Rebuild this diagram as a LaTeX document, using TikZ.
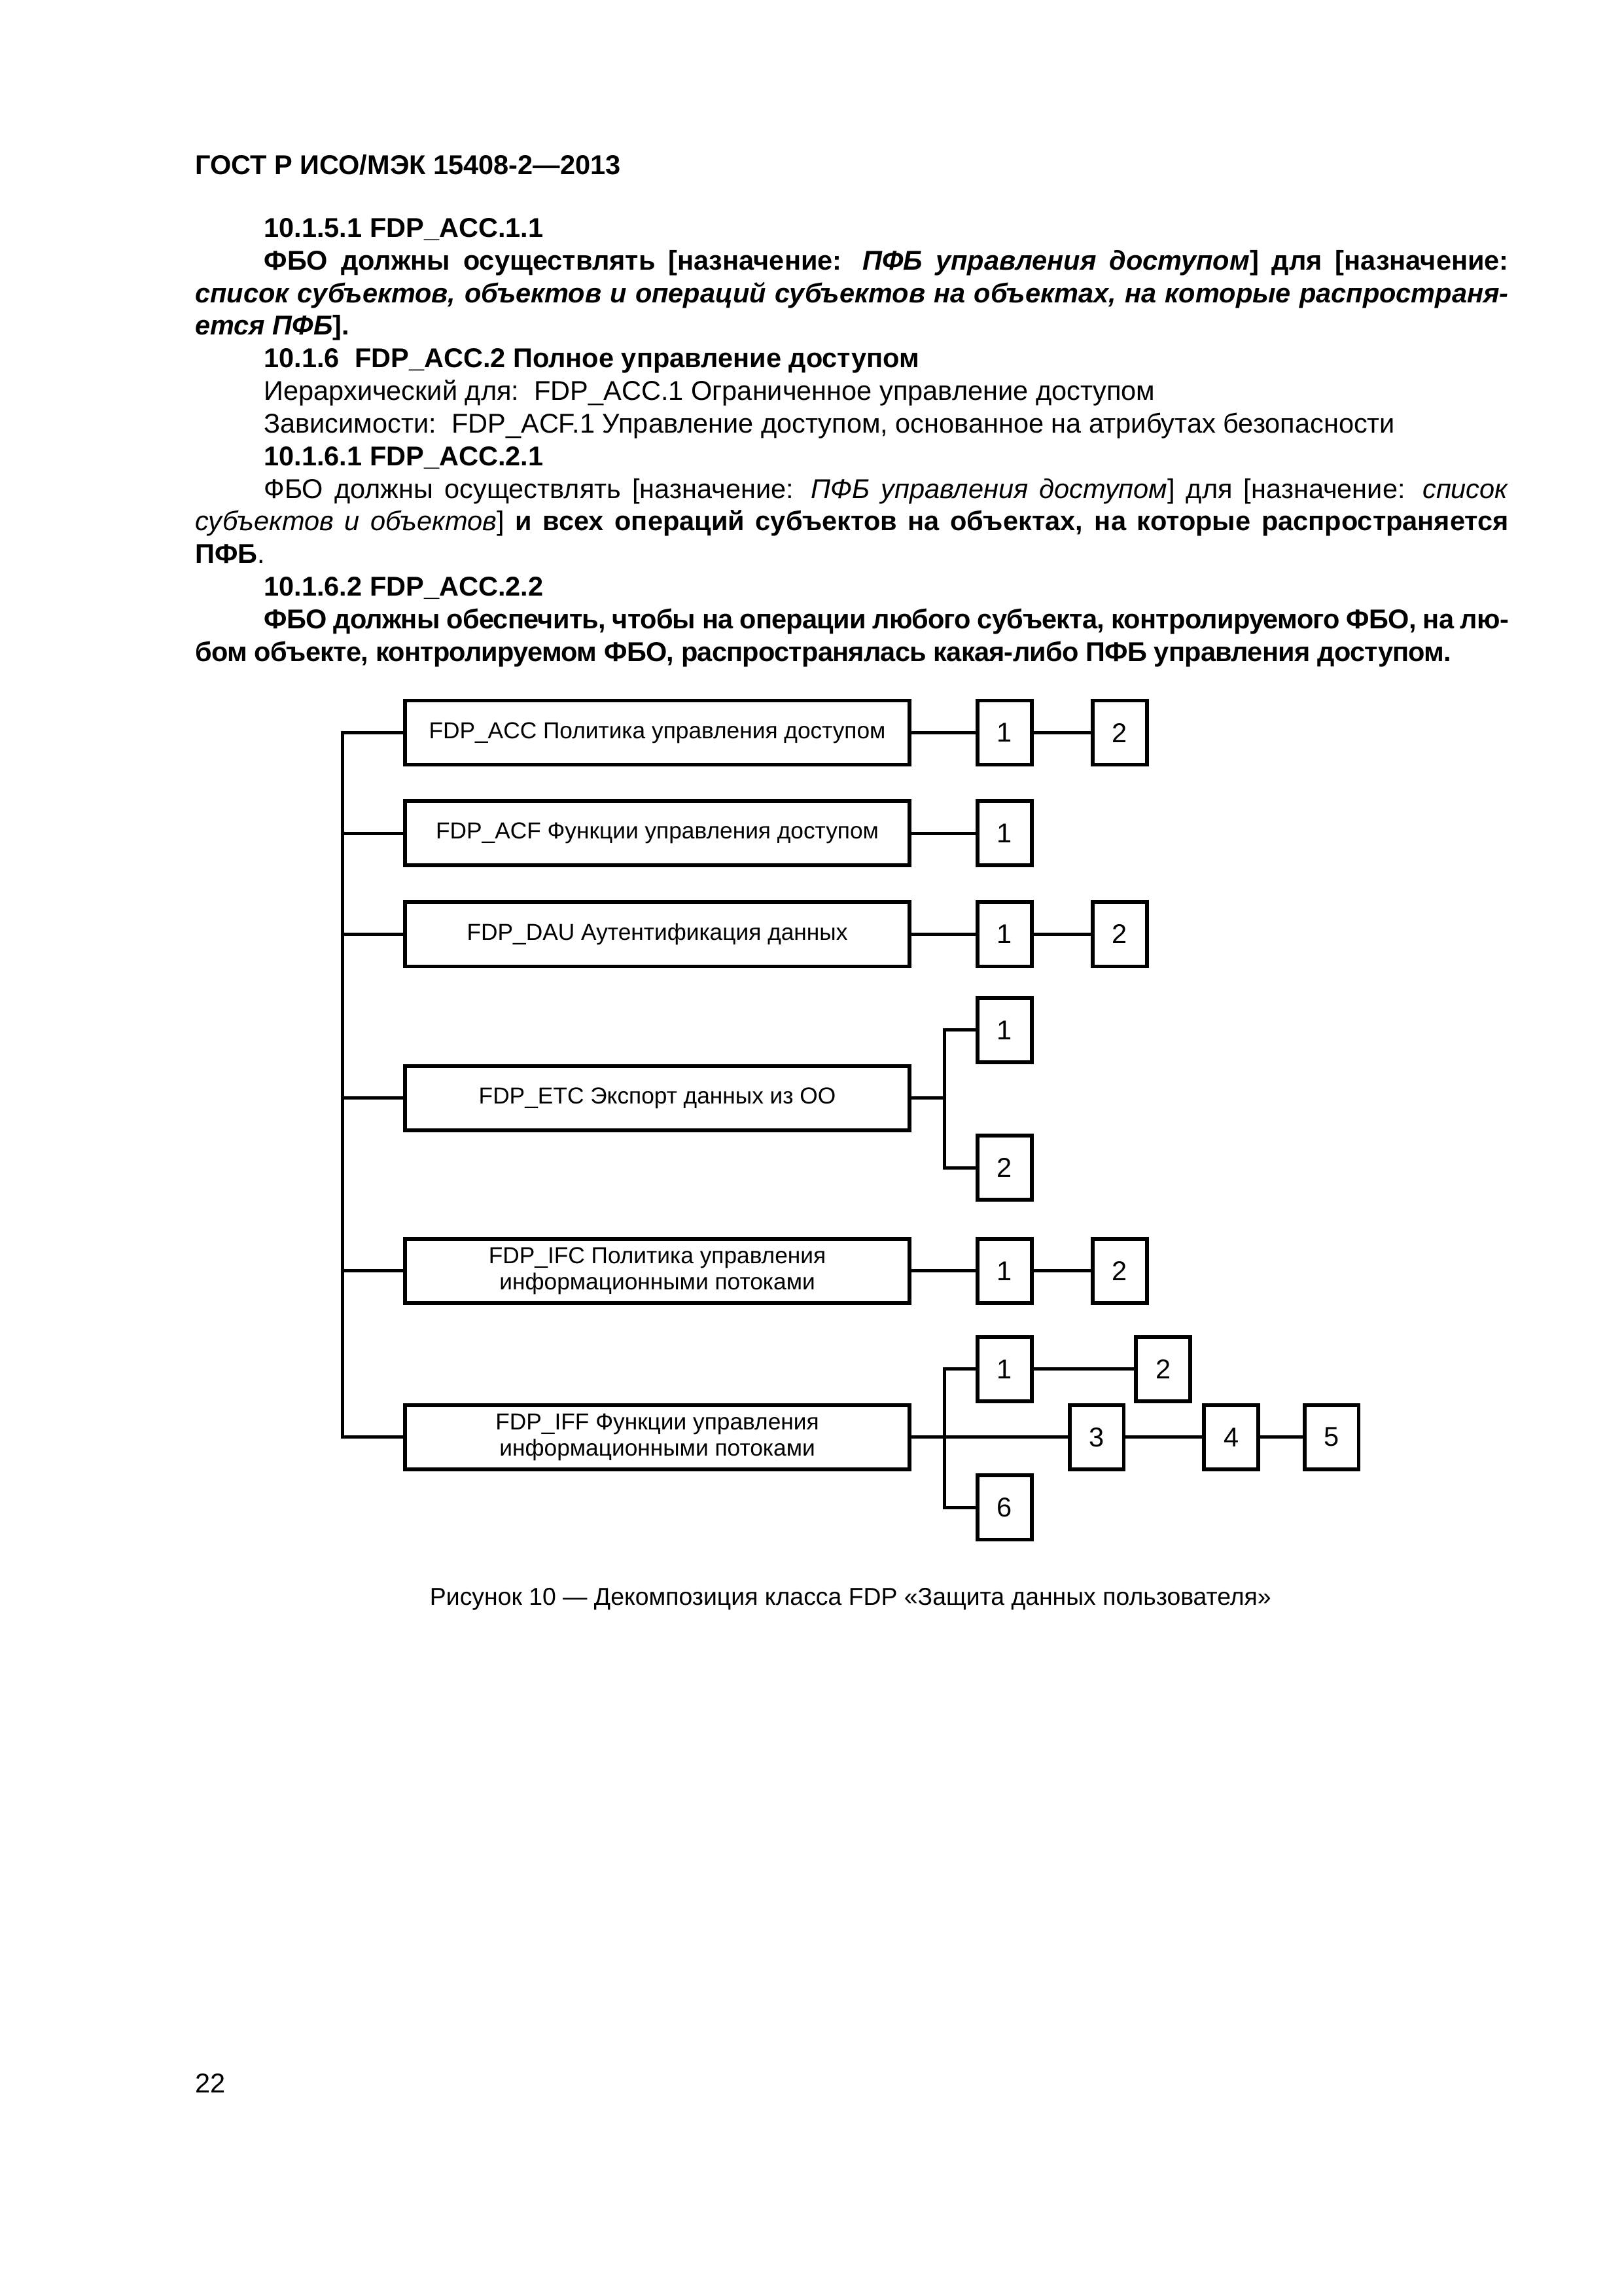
\documentclass[tikz,border=0pt]{standalone}
\usepackage{fontspec}
\setmainfont{Liberation Sans}
\usepackage{tikz}
\usetikzlibrary{positioning}
\tikzset{edge/.style = {line width=1.2pt}}
\newlength{\indw}
\setlength{\indw}{0.89cm}

\begin{document}
\begin{tikzpicture}[x=0.018936cm,y=-0.018936cm,
    big node/.style={draw,line width=1.4pt,minimum width=6.53cm,minimum height=0.83cm,inner sep=1pt,align=center,font=\fontsize{8.5}{9.7}\selectfont},
    num node/.style={draw,line width=1.4pt,minimum width=0.7cm,minimum height=0.83cm,inner sep=0pt,font=\fontsize{10}{12}\selectfont},
    body/.style={anchor=base west,inner sep=0pt,text width=16.99cm,align=justify,font=\fontsize{10}{12}\selectfont}]
  \useasboundingbox (0,0) rectangle (1109,1568);

  \node[body,font=\bfseries\fontsize{10}{12}\selectfont] (head) at (133,119) {ГОСТ Р ИСО/МЭК 15408-2—2013};
  \node[body] (txt) at (133,162) {\hyphenpenalty=10000
    \hspace*{\indw}\textbf{10.1.5.1 FDP\_ACC.1.1}\par
    \hspace*{\indw}\textbf{ФБО должны осуществлять [назначение: \textit{ПФБ управления доступом}] для [назначение:\linebreak \textit{список субъектов, объектов и операций субъектов на объектах, на которые распространя-}\linebreak \textit{ется ПФБ}].}\par
    \hspace*{\indw}\textbf{10.1.6\ \ FDP\_ACC.2 Полное управление доступом}\par
    \hspace*{\indw}Иерархический для:\ \ FDP\_ACC.1 Ограниченное управление доступом\par
    \hspace*{\indw}Зависимости:\ \ FDP\_ACF.1 Управление доступом, основанное на атрибутах безопасности\par
    \hspace*{\indw}\textbf{10.1.6.1 FDP\_ACC.2.1}\par
    \hspace*{\indw}ФБО должны осуществлять [назначение: \textit{ПФБ управления доступом}] для [назначение: \textit{список}\linebreak \textit{субъектов и объектов}] \textbf{и всех операций субъектов на объектах, на которые распространяется}\linebreak \textbf{ПФБ}.\par
    \hspace*{\indw}\textbf{10.1.6.2 FDP\_ACC.2.2}\par
    \hspace*{\indw}{\bfseries\addfontfeature{LetterSpace=-1.8}ФБО должны обеспечить, чтобы на операции любого субъекта, контролируемого ФБО, на лю-\linebreak бом объекте, контролируемом ФБО, распространялась какая-либо ПФБ управления доступом.\par}};

  \node[big node] (acc) at (449,500.4) {FDP\_ACC Политика управления доступом};
  \node[big node] (acf) at (449,569) {FDP\_ACF Функции управления доступом};
  \node[big node] (dau) at (449,638) {FDP\_DAU Аутентификация данных};
  \node[big node] (etc) at (449,750) {FDP\_ETC Экспорт данных из ОО};
  \node[big node] (ifc) at (449,868) {FDP\_IFC Политика управления\\информационными потоками};
  \node[big node] (iff) at (449,981.5) {FDP\_IFF Функции управления\\информационными потоками};

  \node[num node] (acc1) [right=0.83cm of acc] {1};
  \node[num node] (acc2) [right=0.74cm of acc1] {2};
  \node[num node] (acf1) [right=0.83cm of acf] {1};
  \node[num node] (dau1) [right=0.83cm of dau] {1};
  \node[num node] (dau2) [right=0.74cm of dau1] {2};
  \node[num node] (etc1) [right=0.83cm of etc, yshift=0.88cm] {1};
  \node[num node] (etc2) [right=0.83cm of etc, yshift=-0.9cm] {2};
  \node[num node] (ifc1) [right=0.83cm of ifc] {1};
  \node[num node] (ifc2) [right=0.74cm of ifc1] {2};
  \node[num node] (iff1) [right=0.83cm of iff, yshift=0.88cm] {1};
  \node[num node] (iff2) [right=1.3cm of iff1] {2};
  \node[num node] (iff3) [right=2.02cm of iff] {3};
  \node[num node] (iff4) [right=0.99cm of iff3] {4};
  \node[num node] (iff5) [right=0.55cm of iff4] {5};
  \node[num node] (iff6) [right=0.83cm of iff, yshift=-0.91cm] {6};

  \coordinate (trunk) at (234,500.4);
  \coordinate (etcfork) at (645,750);
  \coordinate (ifffork) at (645,981.5);

  \draw[edge] (acc) -| (trunk) |- (iff);
  \foreach \n in {acf,dau,etc,ifc}
    \draw[edge] (\n) -- (\n -| trunk);
  \draw[edge] (acc) -- (acc1) -- (acc2);
  \draw[edge] (acf) -- (acf1);
  \draw[edge] (dau) -- (dau1) -- (dau2);
  \draw[edge] (etc) -- (etcfork);
  \draw[edge] (etc1) -| (etcfork) |- (etc2);
  \draw[edge] (ifc) -- (ifc1) -- (ifc2);
  \draw[edge] (iff) -- (iff3) -- (iff4) -- (iff5);
  \draw[edge] (iff1) -| (ifffork) |- (iff6);
  \draw[edge] (iff1) -- (iff2);

  \node[font=\fontsize{9}{11}\selectfont] (cap) at (581,1092) {Рисунок 10 — Декомпозиция класса FDP «Защита данных пользователя»};
  \node[body,text width=,font=\fontsize{10}{12}\selectfont] (page) at (133,1429) {22};
\end{tikzpicture}
\end{document}
